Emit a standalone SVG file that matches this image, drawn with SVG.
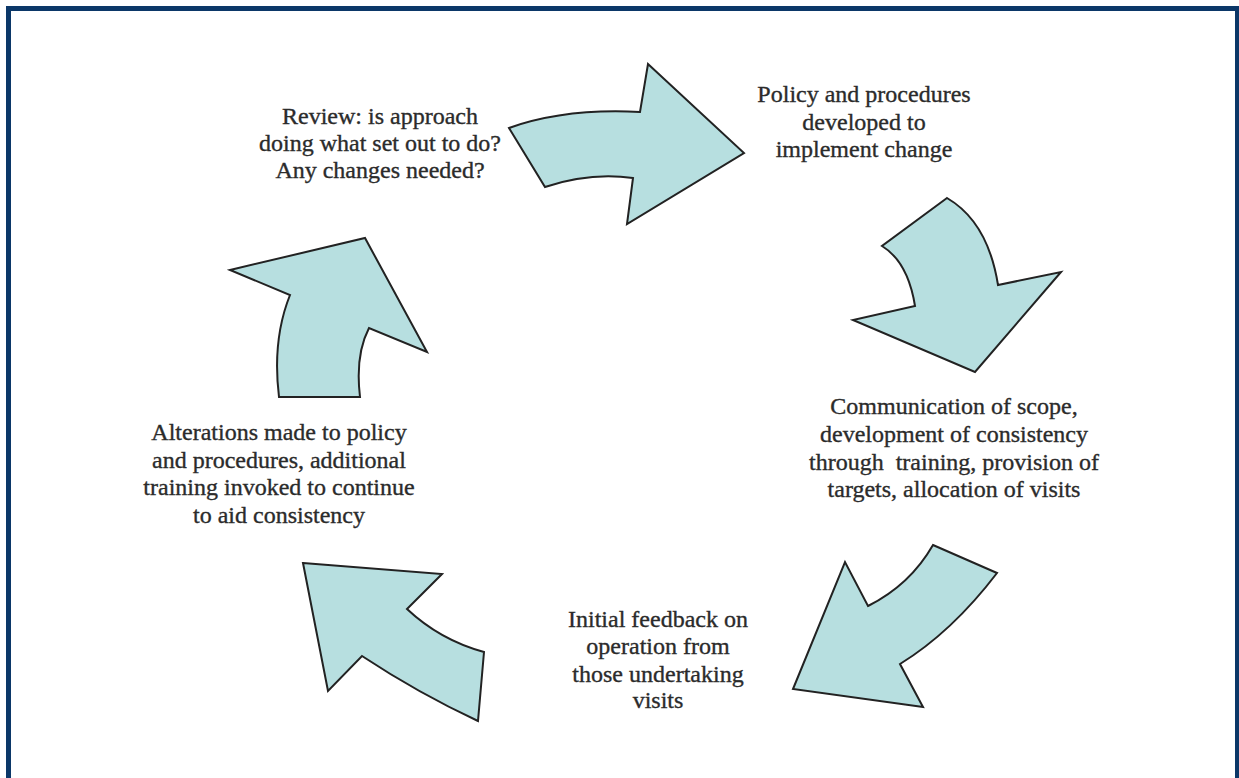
<svg xmlns="http://www.w3.org/2000/svg" width="1239" height="778" viewBox="0 0 1239 778">
<style>
.frame{fill:none;stroke:#0b3768;stroke-width:5}
.arrow{fill:#b7dfe0;stroke:#222;stroke-width:2;stroke-linejoin:miter}
.lbl{font-family:"Liberation Serif","Times New Roman",serif;font-size:24px;fill:#2b2b2b;stroke:#2b2b2b;stroke-width:0.35;text-anchor:middle}
</style>
<rect width="1239" height="778" fill="#ffffff"/>
<rect class="frame" x="8.5" y="8.5" width="1229" height="800"/>
<g id="connectors">
<path id="arrow-top" class="arrow" d="M509,128 Q565,108 640,112 L648,64 L744,153 L627,224 L633,178 Q590,172 545,187 Z"/>
<path id="arrow-right-top" class="arrow" d="M947,198 L882,246 Q908,262 915,306 L853,320 L975,372 L1061,272 L998,285 Q988,222 947,198 Z"/>
<path id="arrow-right-bottom" class="arrow" d="M933,545 L997,573 Q952,632 900,664 L923,707 L793,689 L845,562 L868,606 Q910,585 933,545 Z"/>
<path id="arrow-bottom-left" class="arrow" d="M303,563 L442,574 L407,609 Q440,640 484,652 L478,721 Q418,693 362,656 L328,691 Z"/>
<path id="arrow-left" class="arrow" d="M230,270 L365,238 L427,352 L369,328 Q355,355 360,397 L279,397 Q272,340 290,295 Z"/>
</g>
<g id="node-review">
<text class="lbl" x="380" y="124">Review: is approach</text>
<text class="lbl" x="380" y="151">doing what set out to do?</text>
<text class="lbl" x="380" y="178">Any changes needed?</text>
</g>
<g id="node-policy">
<text class="lbl" x="864" y="102">Policy and procedures</text>
<text class="lbl" x="864" y="129.5">developed to</text>
<text class="lbl" x="864" y="157">implement change</text>
</g>
<g id="node-communication">
<text class="lbl" x="954" y="414">Communication of scope,</text>
<text class="lbl" x="954" y="442">development of consistency</text>
<text class="lbl" x="954" y="470" xml:space="preserve">through  training, provision of</text>
<text class="lbl" x="954" y="497">targets, allocation of visits</text>
</g>
<g id="node-feedback">
<text class="lbl" x="658" y="627">Initial feedback on</text>
<text class="lbl" x="658" y="654">operation from</text>
<text class="lbl" x="658" y="682">those undertaking</text>
<text class="lbl" x="658" y="708">visits</text>
</g>
<g id="node-alterations">
<text class="lbl" x="279" y="440">Alterations made to policy</text>
<text class="lbl" x="279" y="467.5">and procedures, additional</text>
<text class="lbl" x="279" y="495">training invoked to continue</text>
<text class="lbl" x="279" y="522.5">to aid consistency</text>
</g>
</svg>
